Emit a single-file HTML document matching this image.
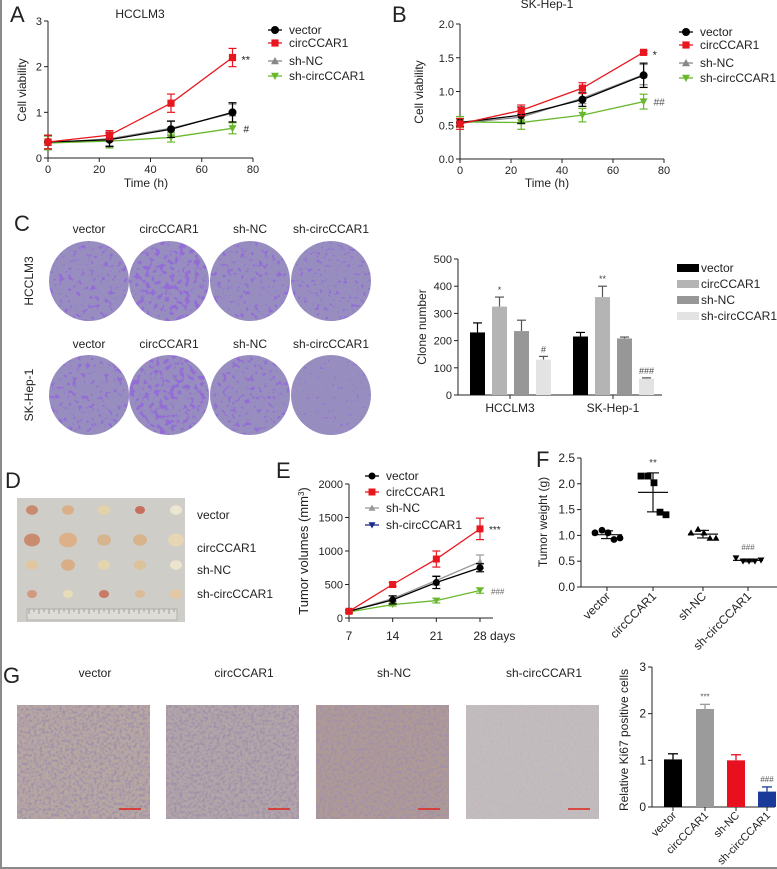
<!DOCTYPE html>
<html><head><meta charset="utf-8"><style>
html,body{margin:0;padding:0;background:#fff}
svg{display:block;font-family:"Liberation Sans",Arial,sans-serif}
</style></head><body>
<svg id="fig" width="777" height="869" viewBox="0 0 777 869" xmlns="http://www.w3.org/2000/svg">
<defs>
<filter id="colonyHeavy" x="0" y="0" width="1" height="1">
 <feTurbulence type="fractalNoise" baseFrequency="0.2" numOctaves="2" seed="3" result="n"/>
 <feColorMatrix in="n" type="matrix" values="0 0 0 0 0.3  0 0 0 0 0.15  0 0 0 0 0.68  10 0 0 0 -5.3" result="c"/>
 <feComposite in="c" in2="SourceGraphic" operator="atop"/>
</filter>
<filter id="colonyMid" x="0" y="0" width="1" height="1">
 <feTurbulence type="fractalNoise" baseFrequency="0.22" numOctaves="2" seed="7" result="n"/>
 <feColorMatrix in="n" type="matrix" values="0 0 0 0 0.3  0 0 0 0 0.15  0 0 0 0 0.68  10 0 0 0 -5.9" result="c"/>
 <feComposite in="c" in2="SourceGraphic" operator="atop"/>
</filter>
<filter id="colonyLight" x="0" y="0" width="1" height="1">
 <feTurbulence type="fractalNoise" baseFrequency="0.25" numOctaves="2" seed="11" result="n"/>
 <feColorMatrix in="n" type="matrix" values="0 0 0 0 0.3  0 0 0 0 0.15  0 0 0 0 0.68  12 0 0 0 -7.6" result="c"/>
 <feComposite in="c" in2="SourceGraphic" operator="atop"/>
</filter>
<filter id="colonyFew" x="0" y="0" width="1" height="1">
 <feTurbulence type="fractalNoise" baseFrequency="0.3" numOctaves="2" seed="13" result="n"/>
 <feColorMatrix in="n" type="matrix" values="0 0 0 0 0.3  0 0 0 0 0.15  0 0 0 0 0.68  14 0 0 0 -9.8" result="c"/>
 <feComposite in="c" in2="SourceGraphic" operator="atop"/>
</filter>
<filter id="tissue" x="0" y="0" width="1" height="1">
 <feTurbulence type="fractalNoise" baseFrequency="0.35" numOctaves="3" seed="5" result="n"/>
 <feColorMatrix in="n" type="matrix" values="0 0 0 0 0.35  0 0 0 0 0.28  0 0 0 0 0.4  3 0 0 0 -1.2" result="c"/>
 <feComposite in="c" in2="SourceGraphic" operator="atop"/>
</filter>
<filter id="tissueLight" x="0" y="0" width="1" height="1">
 <feTurbulence type="fractalNoise" baseFrequency="0.35" numOctaves="3" seed="9" result="n"/>
 <feColorMatrix in="n" type="matrix" values="0 0 0 0 0.5  0 0 0 0 0.45  0 0 0 0 0.55  2 0 0 0 -0.9" result="c"/>
 <feComposite in="c" in2="SourceGraphic" operator="atop"/>
</filter>
</defs>
<rect x="0" y="0" width="2" height="869" fill="#8a8a8a"/>
<rect x="0" y="867" width="777" height="2" fill="#8a8a8a"/>
</svg>
<script>
// ---------- DATA ----------
const timeA = [0, 24, 48, 72];
const aVector = [0.35, 0.40, 0.63, 1.00];
const aVectorErr = [0.15, 0.15, 0.18, 0.21];
const aCirc = [0.35, 0.50, 1.20, 2.20];
const aCircErr = [0.15, 0.10, 0.20, 0.20];
const aShNC = [0.33, 0.42, 0.65, 0.98];
const aShNCErr = [0.15, 0.15, 0.15, 0.20];
const aShCirc = [0.33, 0.37, 0.45, 0.65];
const aShCircErr = [0.15, 0.15, 0.10, 0.12];
const aTicksY = [0, 1, 2, 3];
const aTicksX = [0, 20, 40, 60, 80];

const bVector = [0.54, 0.65, 0.88, 1.24];
const bVectorErr = [0.06, 0.12, 0.10, 0.18];
const bCirc = [0.52, 0.72, 1.05, 1.58];
const bCircErr = [0.08, 0.08, 0.08, 0.02];
const bShNC = [0.53, 0.62, 0.90, 1.25];
const bShNCErr = [0.06, 0.10, 0.08, 0.15];
const bShCirc = [0.55, 0.54, 0.65, 0.85];
const bShCircErr = [0.08, 0.10, 0.10, 0.11];
const bTicksY = [0, 0.5, 1.0, 1.5, 2.0];
const bTickLabelsY = ["0.0", "0.5", "1.0", "1.5", "2.0"];

const cGroups = ["HCCLM3", "SK-Hep-1"];
const cVector = [230, 215];
const cVectorErr = [35, 15];
const cCirc = [325, 360];
const cCircErr = [35, 40];
const cShNC = [235, 208];
const cShNCErr = [40, 5];
const cShCirc = [130, 60];
const cShCircErr = [12, 3];
const cSig = [["", "*", "", "#"], ["", "**", "", "###"]];
const cTicksY = [0, 100, 200, 300, 400, 500];

const eDays = [7, 14, 21, 28];
const eVector = [100, 270, 530, 750];
const eVectorErr = [20, 60, 90, 60];
const eCirc = [100, 500, 880, 1330];
const eCircErr = [20, 30, 120, 160];
const eShNC = [100, 290, 560, 840];
const eShNCErr = [20, 40, 70, 100];
const eShCirc = [90, 200, 260, 410];
const eShCircErr = [15, 20, 35, 40];
const eTicksY = [0, 500, 1000, 1500, 2000];

const fGroups = ["vector", "circCCAR1", "sh-NC", "sh-circCCAR1"];
const fVector = [1.05, 1.10, 1.05, 0.92, 0.95];
const fCirc = [2.15, 2.15, 2.02, 1.45, 1.40];
const fShNC = [1.05, 1.12, 1.05, 0.95, 0.95];
const fShCirc = [0.56, 0.50, 0.50, 0.50, 0.52];
const fTicksY = [0, 0.5, 1.0, 1.5, 2.0, 2.5];

const gGroups = ["vector", "circCCAR1", "sh-NC", "sh-circCCAR1"];
const gValues = [1.02, 2.10, 1.00, 0.33];
const gErr = [0.12, 0.10, 0.12, 0.10];
const gSig = ["", "***", "", "###"];
const gTicksY = [0, 1, 2, 3];

// ---------- HELPERS ----------
const NS = 'http://www.w3.org/2000/svg';
const svg = document.getElementById('fig');
function el(tag, a, parent) {
  const e = document.createElementNS(NS, tag);
  for (const k in a) e.setAttribute(k, a[k]);
  (parent || svg).appendChild(e);
  return e;
}
function txt(x, y, s, size, anchor, rot, fill) {
  const t = el('text', {x: x, y: y, 'font-size': size, 'text-anchor': anchor || 'middle', fill: fill || '#222'});
  if (rot) t.setAttribute('transform', 'rotate(' + rot + ' ' + x + ' ' + y + ')');
  t.textContent = s;
  return t;
}
function line(x1, y1, x2, y2, color, w) {
  return el('line', {x1: x1, y1: y1, x2: x2, y2: y2, stroke: color || '#222', 'stroke-width': w || 1});
}
function marker(type, x, y, r, color) {
  let m;
  if (type === 'circle') m = el('circle', {cx: x, cy: y, r: r, fill: color});
  else if (type === 'square') m = el('rect', {x: x - r, y: y - r, width: 2 * r, height: 2 * r, fill: color});
  else if (type === 'up') m = el('polygon', {points: (x - r) + ',' + (y + r * 0.8) + ' ' + (x + r) + ',' + (y + r * 0.8) + ' ' + x + ',' + (y - r), fill: color});
  else m = el('polygon', {points: (x - r) + ',' + (y - r * 0.8) + ' ' + (x + r) + ',' + (y - r * 0.8) + ' ' + x + ',' + (y + r), fill: color});
  return m;
}
function yAxis(x, sy, ticks, labels, size) {
  const a = line(x, sy(ticks[ticks.length - 1]), x, sy(ticks[0]));
  
  
  ticks.forEach((v, i) => {
    line(x - 4, sy(v), x, sy(v));
    const t = txt(x - 6, sy(v) + 4, labels ? labels[i] : String(v), size || 11, 'end');
    
    
  });
}
function drawSeries(xs, vals, errs, sx, sy, color, type, r, name) {
  const pts = xs.map((x, i) => sx(x) + ',' + sy(vals[i])).join(' ');
  const pl = el('polyline', {points: pts, fill: 'none', stroke: color, 'stroke-width': 1.3});
  
  
  xs.forEach((x, i) => {
    const cx = sx(x), y1 = sy(vals[i] + errs[i]), y2 = sy(vals[i] - errs[i]);
    line(cx, y1, cx, y2, color, 1.2);
    line(cx - 4, y1, cx + 4, y1, color, 1.2);
    line(cx - 4, y2, cx + 4, y2, color, 1.2);
    const m = marker(type, cx, sy(vals[i]), r, color);
    
    
  });
}
function legendEntry(x, y, label, color, type, r, w) {
  line(x, y, x + (w || 14), y, color, 1.3);
  marker(type, x + (w || 14) / 2, y, r, color);
  const t = txt(x + (w || 14) + 7, y + 4, label, 12, 'start');
  
  
}

// ---------- PANEL A ----------
(function () {
  const sx = t => 48 + t / 80 * 205;
  const sy = v => 158 - v / 3 * 137;
  txt(10, 22, 'A', 22, 'start');
  txt(140, 18, 'HCCLM3', 12);
  yAxis(48, sy, aTicksY);
  const xa = line(48, 158, 253, 158);
  
  
  aTicksX.forEach(v => { line(sx(v), 158, sx(v), 162); txt(sx(v), 173, String(v), 11); });
  txt(146, 187, 'Time (h)', 12);
  txt(26, 90, 'Cell viability', 12, 'middle', -90);
  drawSeries(timeA, aShNC, aShNCErr, sx, sy, '#888', 'up', 4, 'a-sh-nc');
  drawSeries(timeA, aShCirc, aShCircErr, sx, sy, '#6ab82e', 'down', 4, 'a-sh-circccar1');
  drawSeries(timeA, aVector, aVectorErr, sx, sy, '#000', 'circle', 4, 'a-vector');
  drawSeries(timeA, aCirc, aCircErr, sx, sy, '#e8171f', 'square', 3.6, 'a-circccar1');
  txt(sx(72) + 9, sy(aCirc[3]) + 6, '**', 11, 'start');
  txt(sx(72) + 11, sy(aShCirc[3]) + 4, '#', 10, 'start');
  legendEntry(268, 30, 'vector', '#000', 'circle', 4);
  legendEntry(268, 43, 'circCCAR1', '#e8171f', 'square', 3.6);
  legendEntry(268, 61, 'sh-NC', '#888', 'up', 4);
  legendEntry(268, 76, 'sh-circCCAR1', '#6ab82e', 'down', 4);
})();

// ---------- PANEL B ----------
(function () {
  const sx = t => 460 + t / 80 * 204;
  const sy = v => 159 - v / 2 * 135;
  txt(392, 22, 'B', 22, 'start');
  txt(547, 8, 'SK-Hep-1', 12);
  yAxis(460, sy, bTicksY, bTickLabelsY);
  line(460, 159, 664, 159);
  aTicksX.forEach(v => { line(sx(v), 159, sx(v), 163); txt(sx(v), 174, String(v), 11); });
  txt(547, 187, 'Time (h)', 12);
  txt(423, 92, 'Cell viability', 12, 'middle', -90);
  drawSeries(timeA, bShNC, bShNCErr, sx, sy, '#888', 'up', 4, 'b-sh-nc');
  drawSeries(timeA, bShCirc, bShCircErr, sx, sy, '#6ab82e', 'down', 4, 'b-sh-circccar1');
  drawSeries(timeA, bVector, bVectorErr, sx, sy, '#000', 'circle', 4, 'b-vector');
  drawSeries(timeA, bCirc, bCircErr, sx, sy, '#e8171f', 'square', 3.6, 'b-circccar1');
  txt(sx(72) + 9, sy(bCirc[3]) + 6, '*', 11, 'start');
  txt(sx(72) + 10, sy(bShCirc[3]) + 4, '##', 10, 'start', 0, '#555');
  legendEntry(679, 32, 'vector', '#000', 'circle', 4);
  legendEntry(679, 45, 'circCCAR1', '#e8171f', 'square', 3.6);
  legendEntry(679, 63, 'sh-NC', '#888', 'up', 4);
  legendEntry(679, 78, 'sh-circCCAR1', '#6ab82e', 'down', 4);
})();

// ---------- PANEL C plates ----------
(function () {
  txt(14, 231, 'C', 22, 'start');
  const cols = [89, 169, 250, 331];
  const names = ['vector', 'circCCAR1', 'sh-NC', 'sh-circCCAR1'];
  const dens = [['colonyMid', 'colonyHeavy', 'colonyMid', 'colonyLight'], ['colonyMid', 'colonyHeavy', 'colonyMid', 'colonyFew']];
  const rows = [281, 395];
  const labY = [233, 348];
  txt(33, 281, 'HCCLM3', 12, 'middle', -90);
  txt(33, 395, 'SK-Hep-1', 12, 'middle', -90);
  rows.forEach((cy, ri) => {
    cols.forEach((cx, ci) => {
      txt(cx, labY[ri], names[ci], 12);
      const c = el('circle', {cx: cx, cy: cy, r: 40, fill: '#978dbf', filter: 'url(#' + dens[ri][ci] + ')'});
      
      
    });
  });
})();

// ---------- PANEL C bar chart ----------
(function () {
  const sy = v => 395 - v / 500 * 136;
  yAxis(458, sy, cTicksY);
  line(458, 395, 662, 395);
  txt(426, 327, 'Clone number', 12, 'middle', -90);
  const colors = ['#000', '#b4b4b4', '#979797', '#e3e3e3'];
  const series = [[cVector, cVectorErr], [cCirc, cCircErr], [cShNC, cShNCErr], [cShCirc, cShCircErr]];
  const starts = [470, 573];
  cGroups.forEach((g, gi) => {
    series.forEach((s, si) => {
      const x = starts[gi] + si * 22, v = s[0][gi], e = s[1][gi];
      line(x + 7.5, sy(v), x + 7.5, sy(v + e), colors[si] === '#000' ? '#000' : '#555', 1.2);
      line(x + 3, sy(v + e), x + 12, sy(v + e), colors[si] === '#000' ? '#000' : '#555', 1.2);
      const b = el('rect', {x: x, y: sy(v), width: 15, height: 395 - sy(v), fill: colors[si]});
      
      
      if (cSig[gi][si]) txt(x + 7.5, sy(v + e) - 4, cSig[gi][si], 9, 'middle', 0, '#444');
    });
    const mid = starts[gi] + 40;
    line(mid, 395, mid, 399);
    txt(mid, 412, g, 12);
  });
  const lab = ['vector', 'circCCAR1', 'sh-NC', 'sh-circCCAR1'];
  lab.forEach((l, i) => {
    const y = 268 + i * 16;
    el('rect', {x: 677, y: y - 4, width: 22, height: 8, fill: colors[i]});
    const t = txt(701, y + 4, l, 12, 'start');
    
    
  });
})();

// ---------- PANEL D photo ----------
(function () {
  txt(5, 488, 'D', 22, 'start');
  const p = el('rect', {x: 17, y: 498, width: 168, height: 124, fill: '#cfcdc7'});
  
  
  const rowsY = [510, 540, 565, 594];
  const tcol = [['#c98a6e', '#d9b088', '#e3d2a8', '#c8705e', '#ece6d0'], ['#c98a6e', '#dcb088', '#d6b48e', '#d8b48c', '#e6d6b4'], ['#e0c7a0', '#d9ae86', '#e4d6ac', '#dcc29a', '#ece4cc'], ['#d19a80', '#e6dcb8', '#c87a66', '#dcbc96', '#e2c8a4']];
  const tsz = [[6, 6, 6, 5, 6], [8, 9, 7, 7, 8], [6, 7, 6, 6, 6], [5, 5, 5, 5, 6]];
  rowsY.forEach((y, ri) => {
    for (let ci = 0; ci < 5; ci++) {
      const t = el('ellipse', {cx: 32 + ci * 36, cy: y, rx: tsz[ri][ci], ry: tsz[ri][ci] * 0.8, fill: tcol[ri][ci]});
      
      
    }
  });
  el('rect', {x: 27, y: 609, width: 150, height: 11, fill: '#dedcd6', stroke: '#999', 'stroke-width': 0.6});
  for (let i = 0; i < 30; i++) line(29 + i * 5, 609, 29 + i * 5, i % 2 ? 612 : 614, '#666', 0.5);
  txt(197, 519, 'vector', 12, 'start');
  txt(197, 552, 'circCCAR1', 12, 'start');
  txt(197, 574, 'sh-NC', 12, 'start');
  txt(197, 598, 'sh-circCCAR1', 12, 'start');
})();

// ---------- PANEL E ----------
(function () {
  const sx = d => 349 + (d - 7) / 21 * 131;
  const sy = v => 618 - v / 2000 * 134;
  txt(276, 478, 'E', 22, 'start');
  yAxis(349, sy, eTicksY);
  line(349, 618, 493, 618);
  eDays.forEach(d => { line(sx(d), 618, sx(d), 622); txt(sx(d), 640, String(d), 12); });
  txt(490, 640, 'days', 12, 'start');
  const yl = txt(308, 551, 'Tumor volumes (mm', 13, 'middle', -90);
  const ts = document.createElementNS(NS, 'tspan');
  ts.setAttribute('baseline-shift', 'super');
  ts.setAttribute('font-size', '8');
  ts.textContent = '3';
  yl.appendChild(ts);
  yl.appendChild(document.createTextNode(')'));
  drawSeries(eDays, eShNC, eShNCErr, sx, sy, '#999', 'up', 3.5, 'e-sh-nc');
  drawSeries(eDays, eShCirc, eShCircErr, sx, sy, '#6ab82e', 'down', 3.5, 'e-sh-circccar1');
  drawSeries(eDays, eVector, eVectorErr, sx, sy, '#000', 'circle', 3.5, 'e-vector');
  drawSeries(eDays, eCirc, eCircErr, sx, sy, '#e8171f', 'square', 3.5, 'e-circccar1');
  txt(sx(28) + 9, sy(eCirc[3]) + 4, '***', 10, 'start');
  txt(sx(28) + 11, sy(eShCirc[3]) + 4, '###', 8, 'start', 0, '#666');
  legendEntry(365, 476, 'vector', '#000', 'circle', 3.5);
  legendEntry(365, 492, 'circCCAR1', '#e8171f', 'square', 3.5);
  legendEntry(365, 508, 'sh-NC', '#999', 'up', 3.5);
  legendEntry(365, 525, 'sh-circCCAR1', '#1b2a8a', 'down', 3.5);
})();

// ---------- PANEL F ----------
(function () {
  const sy = v => 587 - v / 2.5 * 129;
  const xs = [607, 653, 703, 748];
  txt(536, 467, 'F', 22, 'start');
  yAxis(581, sy, fTicksY, ["0.0", "0.5", "1.0", "1.5", "2.0", "2.5"], 12);
  line(581, 587, 777, 587);
  txt(547, 522, 'Tumor weight (g)', 12, 'middle', -90);
  const sets = [[fVector, 'circle'], [fCirc, 'square'], [fShNC, 'up'], [fShCirc, 'down']];
  const offs = [-12, -5, 1, 7, 13];
  sets.forEach((s, gi) => {
    const vals = s[0];
    const mean = vals.reduce((a, b) => a + b, 0) / vals.length;
    const sd = Math.sqrt(vals.reduce((a, b) => a + (b - mean) * (b - mean), 0) / (vals.length - 1));
    const cx = xs[gi];
    line(cx - 15, sy(mean), cx + 15, sy(mean), '#111', 1.2);
    line(cx, sy(mean + sd), cx, sy(mean - sd), '#111', 1.2);
    line(cx - 6, sy(mean + sd), cx + 6, sy(mean + sd), '#111', 1.2);
    line(cx - 6, sy(mean - sd), cx + 6, sy(mean - sd), '#111', 1.2);
    vals.forEach((v, i) => {
      const m = marker(s[1], cx + offs[i], sy(v), 3.4, '#000');
      
      
    });
    line(cx, 587, cx, 591);
    txt(cx + 4, 597, fGroups[gi], 12, 'end', -45);
  });
  txt(xs[1], 466, '**', 10, 'middle', 0, '#444');
  txt(xs[3], 550, '###', 8, 'middle', 0, '#666');
})();

// ---------- PANEL G ----------
(function () {
  txt(3, 683, 'G', 22, 'start');
  const xs = [17, 166, 316, 466];
  const titles = ['vector', 'circCCAR1', 'sh-NC', 'sh-circCCAR1'];
  const fills = ['#b8a8a2', '#b3a6a8', '#b09a94', '#c3bcbc'];
  xs.forEach((x, i) => {
    txt(x + 78, 677, titles[i], 12);
    const r = el('rect', {x: x, y: 705, width: 133, height: 114, fill: fills[i], filter: i === 3 ? 'url(#tissueLight)' : 'url(#tissue)'});
    
    
    line(x + 102, 809, x + 124, 809, '#e2231a', 1.6);
  });
  const sy = v => 807 - v / 3 * 140;
  yAxis(652, sy, gTicksY, null, 12);
  line(652, 807, 775, 807);
  txt(628, 740, 'Relative Ki67 positive cells', 12, 'middle', -90);
  const colors = ['#000', '#9b9b9b', '#e8101e', '#1a3a9a'];
  const cxs = [673, 705, 736, 767];
  gGroups.forEach((g, i) => {
    const cx = cxs[i], v = gValues[i], e = gErr[i];
    line(cx, sy(v), cx, sy(v + e), colors[i], 1.3);
    line(cx - 5, sy(v + e), cx + 5, sy(v + e), colors[i], 1.3);
    const b = el('rect', {x: cx - 9, y: sy(v), width: 18, height: 807 - sy(v), fill: colors[i]});
    
    
    if (gSig[i]) txt(cx, sy(v + e) - 5, gSig[i], 8, 'middle', 0, '#555');
    line(cx, 807, cx, 811);
    txt(cx + 4, 816, g, 11, 'end', -45);
  });
})();
</script>
</body></html>
